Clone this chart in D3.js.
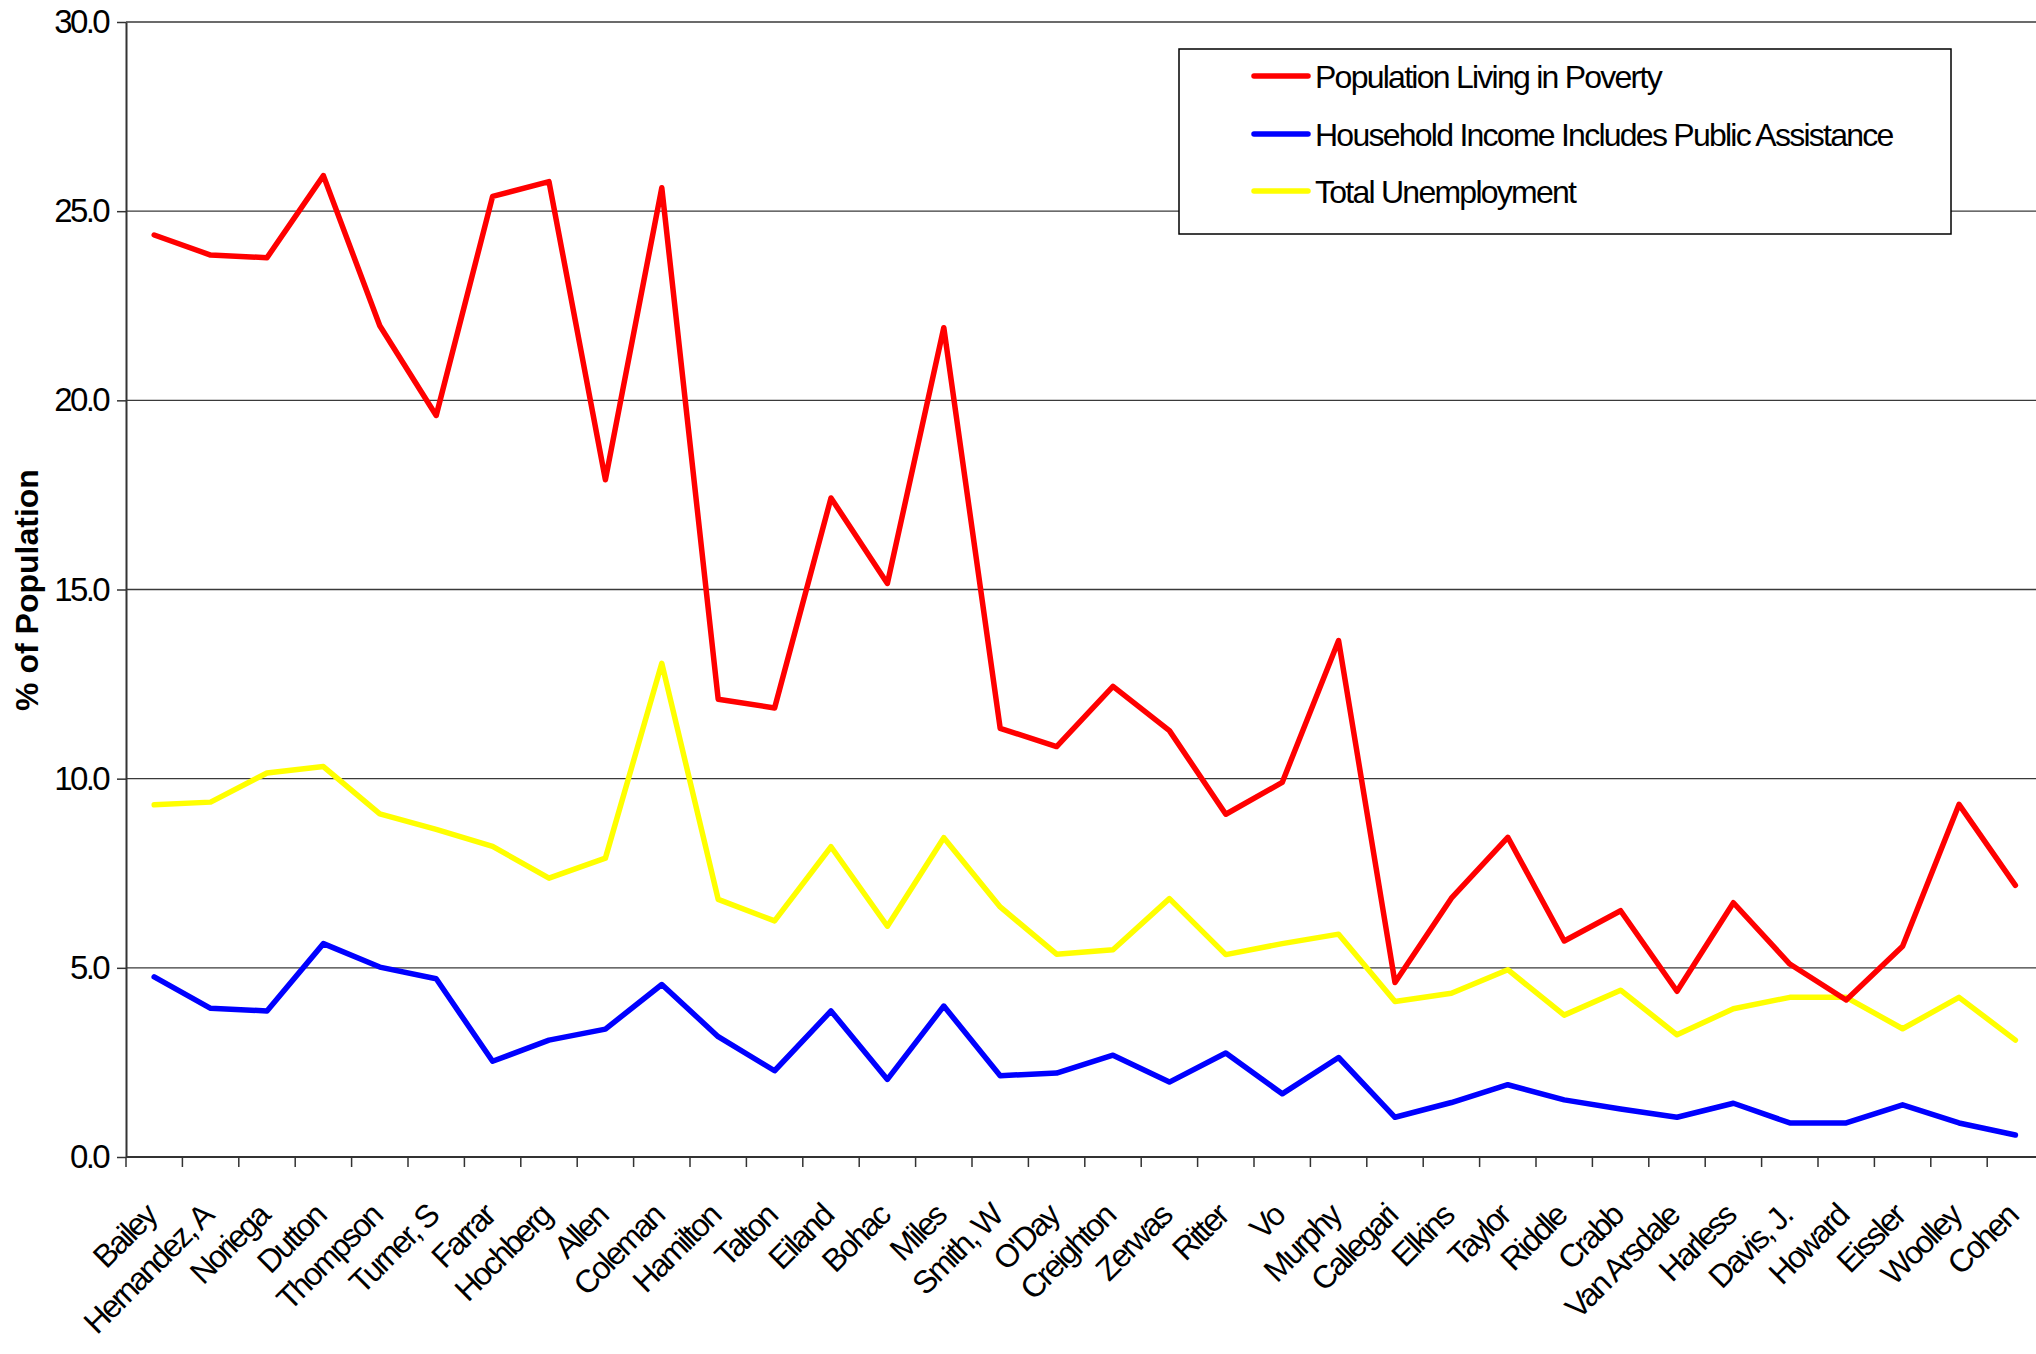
<!DOCTYPE html>
<html>
<head>
<meta charset="utf-8">
<script src="https://cdn.jsdelivr.net/npm/d3@7"></script>
<style>
  html, body { margin: 0; padding: 0; background: #fff; }
  svg { display: block; font-family: "Liberation Sans", Arial, sans-serif; }
</style>
</head>
<body>
<svg id="chart" width="2036" height="1354"></svg>
<script>
const categories = ["Bailey","Hernandez, A","Noriega","Dutton","Thompson","Turner, S","Farrar","Hochberg","Allen","Coleman","Hamilton","Talton","Eiland","Bohac","Miles","Smith, W","O'Day","Creighton","Zerwas","Ritter","Vo","Murphy","Callegari","Elkins","Taylor","Riddle","Crabb","Van Arsdale","Harless","Davis, J.","Howard","Eissler","Woolley","Cohen"];

const poverty = [24.37, 23.84, 23.77, 25.94, 21.97, 19.60, 25.39, 25.78, 17.90, 25.62, 12.10, 11.87, 17.42, 15.16, 21.92, 11.33, 10.85, 12.44, 11.27, 9.06, 9.90, 13.65, 4.61, 6.84, 8.45, 5.71, 6.51, 4.38, 6.72, 5.10, 4.15, 5.57, 9.32, 7.18];
const publicAssistance = [4.76, 3.93, 3.86, 5.64, 5.02, 4.71, 2.53, 3.09, 3.38, 4.56, 3.18, 2.28, 3.86, 2.05, 3.99, 2.15, 2.22, 2.69, 1.98, 2.75, 1.67, 2.63, 1.05, 1.44, 1.91, 1.51, 1.27, 1.05, 1.42, 0.90, 0.90, 1.38, 0.90, 0.58];
const unemployment = [9.31, 9.38, 10.15, 10.32, 9.07, 8.66, 8.21, 7.37, 7.90, 13.05, 6.81, 6.24, 8.20, 6.10, 8.44, 6.61, 5.36, 5.48, 6.83, 5.35, 5.64, 5.89, 4.11, 4.33, 4.95, 3.75, 4.41, 3.23, 3.92, 4.22, 4.22, 3.39, 4.22, 3.09];

const yTicks = [0, 5, 10, 15, 20, 25, 30];
const seriesNames = ["Population Living in Poverty", "Household Income Includes Public Assistance", "Total Unemployment"];
const seriesColors = ["#ff0000", "#0000ff", "#ffff00"];
const yTitle = "% of Population";

const series = [
  { name: seriesNames[0], color: seriesColors[0], values: poverty },
  { name: seriesNames[1], color: seriesColors[1], values: publicAssistance },
  { name: seriesNames[2], color: seriesColors[2], values: unemployment }
];

const W = 2036, H = 1354;
const plotLeft = 126, plotTop = 22, plotBottom = 1157, bandW = 56.4;
const svg = d3.select("#chart");
svg.append("rect").attr("width", W).attr("height", H).attr("fill", "#fff");

const x = d3.scaleBand().domain(categories).range([plotLeft, plotLeft + categories.length * bandW]).paddingInner(0).paddingOuter(0);
const y = d3.scaleLinear().domain([0, 30]).range([plotBottom, plotTop]);

// gridlines
svg.append("g").selectAll("line").data(yTicks.filter(d => d > 0)).join("line")
  .attr("x1", plotLeft).attr("x2", W)
  .attr("y1", d => y(d)).attr("y2", d => y(d))
  .attr("stroke", "#3a3a3a").attr("stroke-width", 1.3);

// y axis
const yAxis = svg.append("g").attr("transform", `translate(${plotLeft},0)`)
  .call(d3.axisLeft(y).tickValues(yTicks).tickFormat(d3.format(".1f")).tickSize(9).tickSizeOuter(0).tickPadding(9));
yAxis.select(".domain").attr("stroke", "#333").attr("stroke-width", 2);
yAxis.selectAll(".tick line").attr("stroke", "#333").attr("stroke-width", 1.5);
yAxis.selectAll(".tick text").attr("font-size", 33).attr("letter-spacing", "-2.6px").attr("fill", "#000")
  .attr("font-family", "'Liberation Sans', Arial, sans-serif");

// x axis line and ticks at category boundaries
svg.append("line").attr("x1", plotLeft).attr("x2", W).attr("y1", plotBottom).attr("y2", plotBottom)
  .attr("stroke", "#333").attr("stroke-width", 2);
svg.append("g").selectAll("line").data(categories).join("line")
  .attr("x1", d => x(d)).attr("x2", d => x(d))
  .attr("y1", plotBottom).attr("y2", plotBottom + 10)
  .attr("stroke", "#333").attr("stroke-width", 1.5);

// x labels
svg.append("g").selectAll("text").data(categories).join("text")
  .attr("transform", d => `translate(${x(d) + x.bandwidth() / 2 + 4},${1218}) rotate(-45)`)
  .attr("text-anchor", "end")
  .attr("font-size", 32)
  .attr("letter-spacing", "-2.3px")
  .attr("fill", "#000")
  .text(d => d);

// y title
svg.append("text")
  .attr("transform", `translate(38,590) rotate(-90)`)
  .attr("text-anchor", "middle")
  .attr("font-size", 32).attr("font-weight", "bold")
  .attr("fill", "#000")
  .text(yTitle);

// lines
const line = d3.line().x((d, i) => x(categories[i]) + x.bandwidth() / 2).y(d => y(d));
svg.append("g").selectAll("path").data(series.slice().reverse()).join("path")
  .attr("d", d => line(d.values))
  .attr("fill", "none")
  .attr("stroke", d => d.color)
  .attr("stroke-width", 5.5)
  .attr("stroke-linejoin", "round")
  .attr("stroke-linecap", "round");

// legend
const lg = svg.append("g");
lg.append("rect").attr("x", 1179).attr("y", 49).attr("width", 772).attr("height", 185)
  .attr("fill", "#fff").attr("stroke", "#000").attr("stroke-width", 1.5);
const rowsY = [76, 134, 191];
const items = lg.selectAll("g.item").data(series).join("g").attr("class", "item")
  .attr("transform", (d, i) => `translate(0,${rowsY[i]})`);
items.append("line").attr("x1", 1254).attr("x2", 1308).attr("y1", 0).attr("y2", 0)
  .attr("stroke", d => d.color).attr("stroke-width", 5.5).attr("stroke-linecap", "round");
items.append("text").attr("x", 1315).attr("y", 12)
  .attr("font-size", 32).attr("letter-spacing", "-1.75px").attr("fill", "#000")
  .text(d => d.name);
</script>
</body>
</html>
